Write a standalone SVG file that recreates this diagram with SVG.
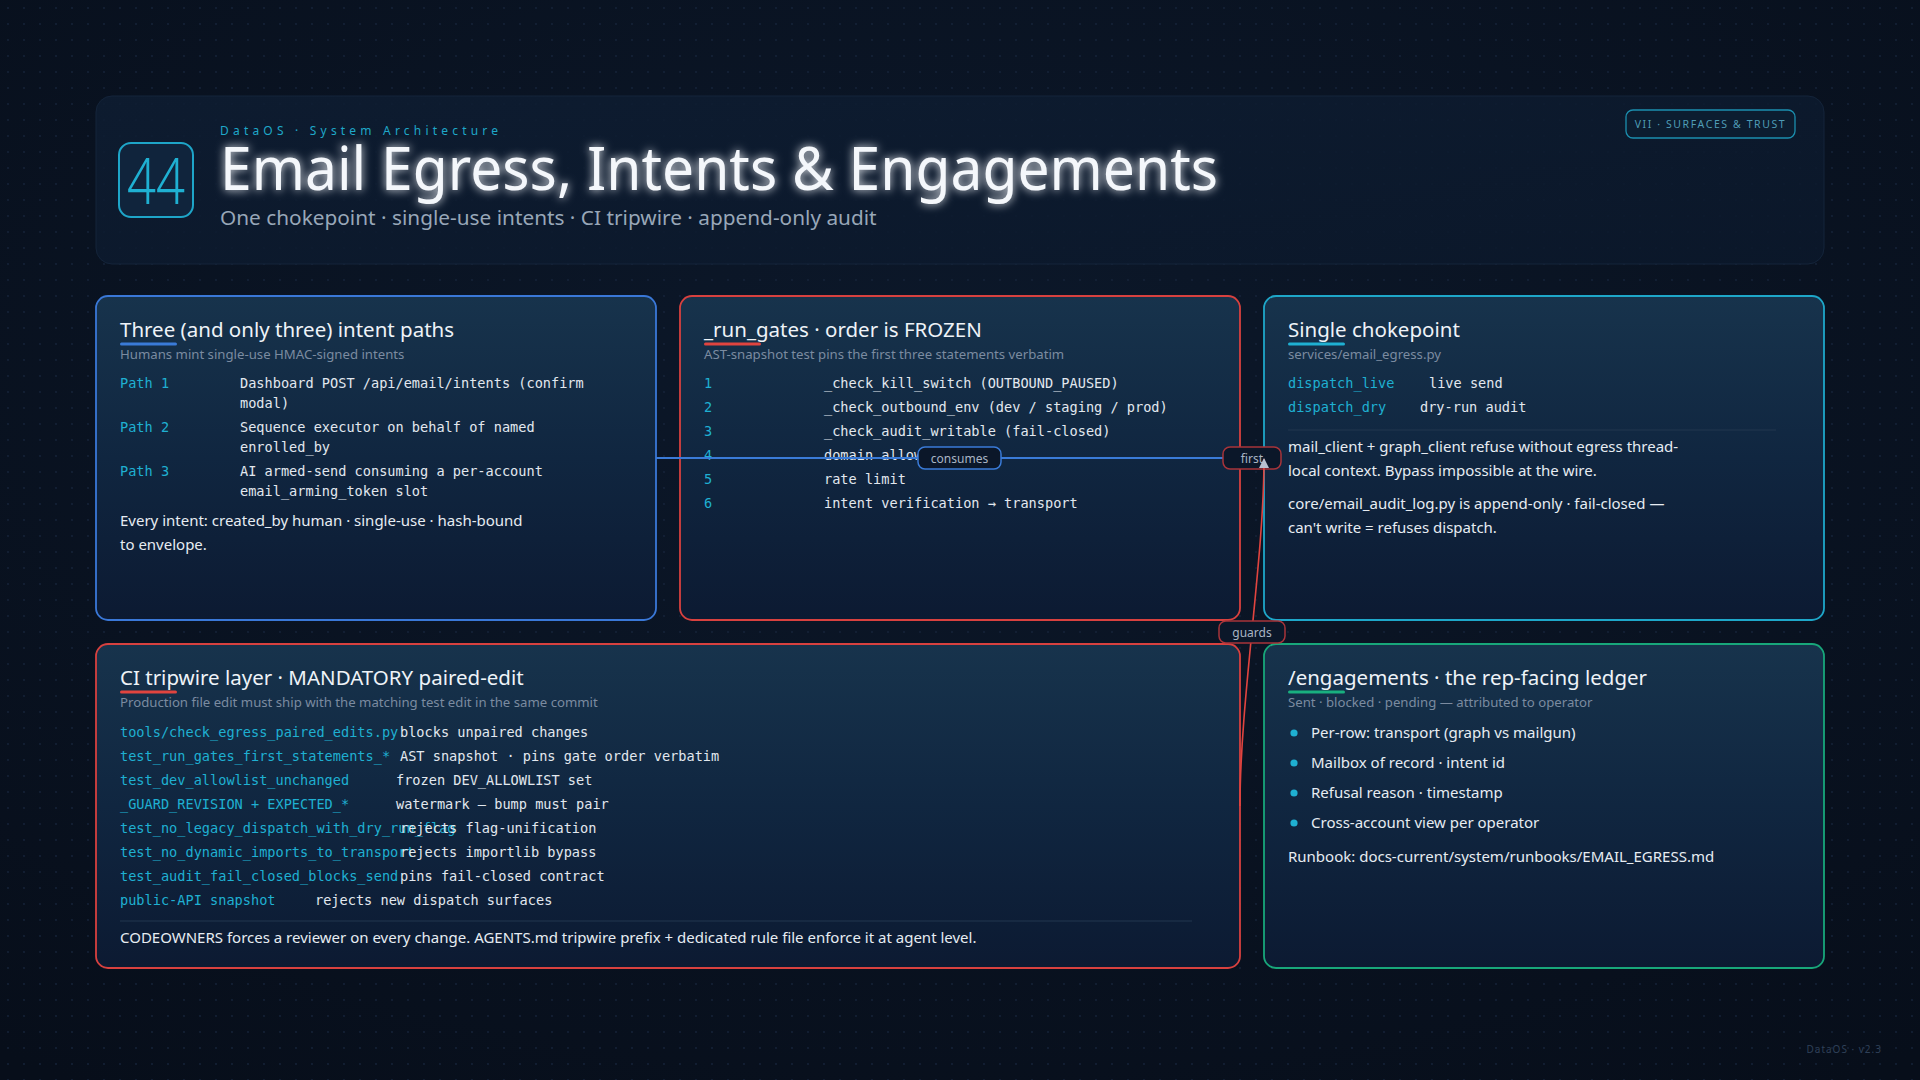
<svg xmlns="http://www.w3.org/2000/svg" width="1920" height="1080" viewBox="0 0 1920 1080">
<defs>
<radialGradient id="bg" cx="50%" cy="35%" r="80%"><stop offset="0" stop-color="#0c182a"/><stop offset="1" stop-color="#070e1a"/></radialGradient>
<pattern id="dots" width="16" height="16" patternUnits="userSpaceOnUse"><circle cx="8" cy="8" r="0.9" fill="#15233a"/></pattern>
<linearGradient id="card" x1="0" y1="0" x2="0" y2="1"><stop offset="0" stop-color="#17334c"/><stop offset="0.5" stop-color="#102640"/><stop offset="1" stop-color="#0c1a32"/></linearGradient>
<linearGradient id="head" x1="0" y1="0" x2="1" y2="1"><stop offset="0" stop-color="#0e1d32"/><stop offset="1" stop-color="#0b182b"/></linearGradient>
<filter id="glow" x="-5%" y="-40%" width="110%" height="180%"><feGaussianBlur stdDeviation="5" result="b"/><feMerge><feMergeNode in="b"/><feMergeNode in="SourceGraphic"/></feMerge></filter>
<marker id="ah" markerWidth="10" markerHeight="10" refX="9" refY="5" orient="auto" markerUnits="userSpaceOnUse"><path d="M0,0 L10,5 L0,10 z" fill="#b8c2d0"/></marker>
<style>
.sans{font-family:"Noto Sans","Open Sans","DejaVu Sans",sans-serif}
.mono{font-family:"DejaVu Sans Mono","Liberation Mono",monospace;font-size:13.6px;fill:#e2e8ef}
.key{fill:#1fb0d2}
.ttl{font-size:20.5px;fill:#eef3f8}
.sub{font-size:13.2px;fill:#7b8ba0}
.body{font-size:15px;fill:#e6ecf2}
.cardbox{fill:url(#card);stroke-width:1.8}
.lbl rect{fill:#0b1729;stroke-width:1.5}
.lbl text{font-family:"Noto Sans","Open Sans",sans-serif;font-size:12px;fill:#a9b5c4;text-anchor:middle}
</style>
</defs>
<rect width="1920" height="1080" fill="url(#bg)"/>
<rect width="1920" height="1080" fill="url(#dots)"/>

<g id="header">
<rect x="96" y="96" width="1728" height="168" rx="16" fill="url(#head)" fill-opacity="0.85" stroke="#14243a" stroke-width="1"/>
<rect x="119" y="143" width="74" height="74" rx="12" fill="#10243c" stroke="#1ea5c8" stroke-width="2"/>
<text x="156" y="204" class="sans" font-size="64" fill="#1fb0d2" text-anchor="middle" font-weight="300" textLength="58" lengthAdjust="spacingAndGlyphs">44</text>
<text x="220" y="135" class="sans" font-size="12" letter-spacing="4.2" fill="#1fa8c9">DataOS · System Architecture</text>
<text x="220" y="190" class="sans" font-size="60" fill="#f4f7fb" filter="url(#glow)" textLength="998" lengthAdjust="spacingAndGlyphs">Email Egress, Intents &amp; Engagements</text>
<text x="220" y="225" class="sans" font-size="20.8" fill="#98a7b8">One chokepoint · single-use intents · CI tripwire · append-only audit</text>
<rect x="1626" y="110" width="169" height="28" rx="7" fill="#0c1d30" stroke="#1b8eae" stroke-width="1.3"/>
<text x="1710.5" y="128" class="sans" font-size="10.5" letter-spacing="1.6" fill="#4f9cb6" text-anchor="middle">VII · SURFACES &amp; TRUST</text>
</g>

<g id="card-intents">
<rect class="cardbox" x="96" y="296" width="560" height="324" rx="12" stroke="#3a78d8"/>
<text x="120" y="337" class="sans ttl">Three (and only three) intent paths</text>
<rect x="120" y="342.5" width="57" height="3" rx="1.5" fill="#3a7bd8"/>
<text x="120" y="359" class="sans sub">Humans mint single-use HMAC-signed intents</text>
<text x="120" y="388" class="mono key">Path 1</text>
<text x="240" y="388" class="mono">Dashboard POST /api/email/intents (confirm</text>
<text x="240" y="408" class="mono">modal)</text>
<text x="120" y="432" class="mono key">Path 2</text>
<text x="240" y="432" class="mono">Sequence executor on behalf of named</text>
<text x="240" y="452" class="mono">enrolled_by</text>
<text x="120" y="476" class="mono key">Path 3</text>
<text x="240" y="476" class="mono">AI armed-send consuming a per-account</text>
<text x="240" y="496" class="mono">email_arming_token slot</text>
<text x="120" y="526" class="sans body">Every intent: created_by human · single-use · hash-bound</text>
<text x="120" y="550" class="sans body">to envelope.</text>
</g>

<g id="card-rungates">
<rect class="cardbox" x="680" y="296" width="560" height="324" rx="12" stroke="#d8413f"/>
<text x="704" y="337" class="sans ttl">_run_gates · order is FROZEN</text>
<rect x="704" y="342.5" width="57" height="3" rx="1.5" fill="#e0443f"/>
<text x="704" y="359" class="sans sub">AST-snapshot test pins the first three statements verbatim</text>
<text x="704" y="388" class="mono key">1</text><text x="824" y="388" class="mono">_check_kill_switch (OUTBOUND_PAUSED)</text>
<text x="704" y="412" class="mono key">2</text><text x="824" y="412" class="mono">_check_outbound_env (dev / staging / prod)</text>
<text x="704" y="436" class="mono key">3</text><text x="824" y="436" class="mono">_check_audit_writable (fail-closed)</text>
<text x="704" y="460" class="mono key">4</text><text x="824" y="460" class="mono">domain allowlist</text>
<text x="704" y="484" class="mono key">5</text><text x="824" y="484" class="mono">rate limit</text>
<text x="704" y="508" class="mono key">6</text><text x="824" y="508" class="mono">intent verification → transport</text>
</g>

<g id="card-chokepoint">
<rect class="cardbox" x="1264" y="296" width="560" height="324" rx="12" stroke="#1ea7c9"/>
<text x="1288" y="337" class="sans ttl">Single chokepoint</text>
<rect x="1288" y="342.5" width="57" height="3" rx="1.5" fill="#1fb0d2"/>
<text x="1288" y="359" class="sans sub">services/email_egress.py</text>
<text x="1288" y="388" class="mono key">dispatch_live</text><text x="1429" y="388" class="mono">live send</text>
<text x="1288" y="412" class="mono key">dispatch_dry</text><text x="1420" y="412" class="mono">dry-run audit</text>
<line x1="1288" y1="430" x2="1776" y2="430" stroke="#22374f" stroke-width="1.2"/>
<text x="1288" y="452" class="sans body">mail_client + graph_client refuse without egress thread-</text>
<text x="1288" y="476" class="sans body">local context. Bypass impossible at the wire.</text>
<text x="1288" y="509" class="sans body">core/email_audit_log.py is append-only · fail-closed —</text>
<text x="1288" y="533" class="sans body">can't write = refuses dispatch.</text>
</g>

<g id="card-tripwire">
<rect class="cardbox" x="96" y="644" width="1144" height="324" rx="12" stroke="#d8413f"/>
<text x="120" y="685" class="sans ttl">CI tripwire layer · MANDATORY paired-edit</text>
<rect x="120" y="690.5" width="57" height="3" rx="1.5" fill="#e0443f"/>
<text x="120" y="707" class="sans sub">Production file edit must ship with the matching test edit in the same commit</text>
<text x="120" y="737" class="mono key">tools/check_egress_paired_edits.py</text><text x="400" y="737" class="mono">blocks unpaired changes</text>
<text x="120" y="761" class="mono key">test_run_gates_first_statements_*</text><text x="400" y="761" class="mono">AST snapshot · pins gate order verbatim</text>
<text x="120" y="785" class="mono key">test_dev_allowlist_unchanged</text><text x="396" y="785" class="mono">frozen DEV_ALLOWLIST set</text>
<text x="120" y="809" class="mono key">_GUARD_REVISION + EXPECTED_*</text><text x="396" y="809" class="mono">watermark — bump must pair</text>
<text x="120" y="833" class="mono key">test_no_legacy_dispatch_with_dry_run_flag</text><text x="400" y="833" class="mono">rejects flag-unification</text>
<text x="120" y="857" class="mono key">test_no_dynamic_imports_to_transport</text><text x="400" y="857" class="mono">rejects importlib bypass</text>
<text x="120" y="881" class="mono key">test_audit_fail_closed_blocks_send</text><text x="400" y="881" class="mono">pins fail-closed contract</text>
<text x="120" y="905" class="mono key">public-API snapshot</text><text x="315" y="905" class="mono">rejects new dispatch surfaces</text>
<line x1="120" y1="921" x2="1192" y2="921" stroke="#22374f" stroke-width="1.2"/>
<text x="120" y="943" class="sans body">CODEOWNERS forces a reviewer on every change. AGENTS.md tripwire prefix + dedicated rule file enforce it at agent level.</text>
</g>

<g id="card-engagements">
<rect class="cardbox" x="1264" y="644" width="560" height="324" rx="12" stroke="#18a77a"/>
<text x="1288" y="685" class="sans ttl">/engagements · the rep-facing ledger</text>
<rect x="1288" y="690.5" width="57" height="3" rx="1.5" fill="#19b07f"/>
<text x="1288" y="707" class="sans sub">Sent · blocked · pending — attributed to operator</text>
<circle cx="1294" cy="733" r="3.6" fill="#1fb0d2"/><text x="1311" y="737.5" class="sans body">Per-row: transport (graph vs mailgun)</text>
<circle cx="1294" cy="763" r="3.6" fill="#1fb0d2"/><text x="1311" y="767.5" class="sans body">Mailbox of record · intent id</text>
<circle cx="1294" cy="793" r="3.6" fill="#1fb0d2"/><text x="1311" y="797.5" class="sans body">Refusal reason · timestamp</text>
<circle cx="1294" cy="823" r="3.6" fill="#1fb0d2"/><text x="1311" y="827.5" class="sans body">Cross-account view per operator</text>
<text x="1288" y="862" class="sans body">Runbook: docs-current/system/runbooks/EMAIL_EGRESS.md</text>
</g>

<g id="connectors">
<path d="M656,458 H1264" fill="none" stroke="#3a7bd8" stroke-width="2" marker-end="url(#ah)"/>
<path d="M1240,458 H1264" fill="none" stroke="#d8413f" stroke-width="1.8" marker-end="url(#ah)"/>
<g class="lbl"><rect x="918" y="447" width="83" height="22" rx="7" stroke="#3a7bd8"/><text x="959.5" y="462.5">consumes</text></g>
<g class="lbl"><rect x="1223" y="447" width="58" height="22" rx="7" stroke="#a8343a"/><text x="1252" y="462.5">first</text></g>
<path d="M1240,806 C1240,700 1264,560 1264,459" fill="none" stroke="#e0443f" stroke-width="1.6" marker-end="url(#ah)"/>
<g class="lbl"><rect x="1219" y="621" width="66" height="22" rx="7" stroke="#a8343a"/><text x="1252" y="636.5">guards</text></g>
</g>

<text x="1882" y="1053" class="sans" font-size="10" letter-spacing="1" fill="#2f4058" text-anchor="end">DataOS · v2.3</text>
</svg>
